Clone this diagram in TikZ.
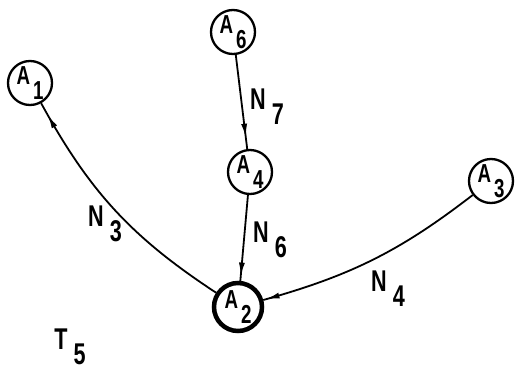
\documentclass[tikz,border=0pt]{standalone}
\usepackage{fontspec}
\setmainfont[FakeStretch=0.72]{Liberation Sans}
\usetikzlibrary{arrows.meta,decorations.markings}
\newcommand{\sublbl}[3]{#1\hspace{#3}\raisebox{-15pt}{#2}}
\begin{document}
\begin{tikzpicture}[x=1pt,y=-1pt,
  circ/.style={draw, circle, line width=2.3pt, minimum size=44pt, inner sep=0pt,
    font=\fontsize{26}{26}\selectfont\bfseries},
  thickcirc/.style={circ, line width=4.5pt, minimum size=48pt},
  lab/.style={inner sep=0pt, font=\fontsize{30}{30}\selectfont\bfseries},
  edge/.style={line width=1.8pt},
  midarrow/.style={postaction={decorate}, decoration={markings,
    mark=at position #1 with {\arrow{Latex[length=14pt,width=6pt]}}}}
]
\useasboundingbox (0,0) rectangle (515,370);
\node[circ] (A1) at (30,83) {\sublbl{A}{1}{3pt}};
\node[circ] (A6) at (233,32) {\sublbl{A}{6}{3pt}};
\node[circ] (A4) at (250,172) {\sublbl{A}{4}{3pt}};
\node[thickcirc] (A2) at (238,307) {\sublbl{A}{2}{3pt}};
\node[circ] (A3) at (491,181) {\sublbl{A}{3}{3pt}};

\draw[edge, midarrow=0.88] (A6) -- (A4);
\draw[edge, midarrow=0.95] (A4) -- (A2);
\draw[edge, midarrow=0.95] (A2) to[bend left=14] (A1);
\draw[edge, midarrow=0.99] (A3) to[bend left=11] (A2);

\node[lab] (N7) at (267,107) {\sublbl{N}{7}{6pt}};
\node[lab] (N6) at (270,240) {\sublbl{N}{6}{6pt}};
\node[lab] (N4) at (388,289) {\sublbl{N}{4}{6pt}};
\node[lab] (N3) at (105,224) {\sublbl{N}{3}{6pt}};
\node[lab] (T5) at (70,347) {\sublbl{T}{5}{6pt}};
\end{tikzpicture}
\end{document}
